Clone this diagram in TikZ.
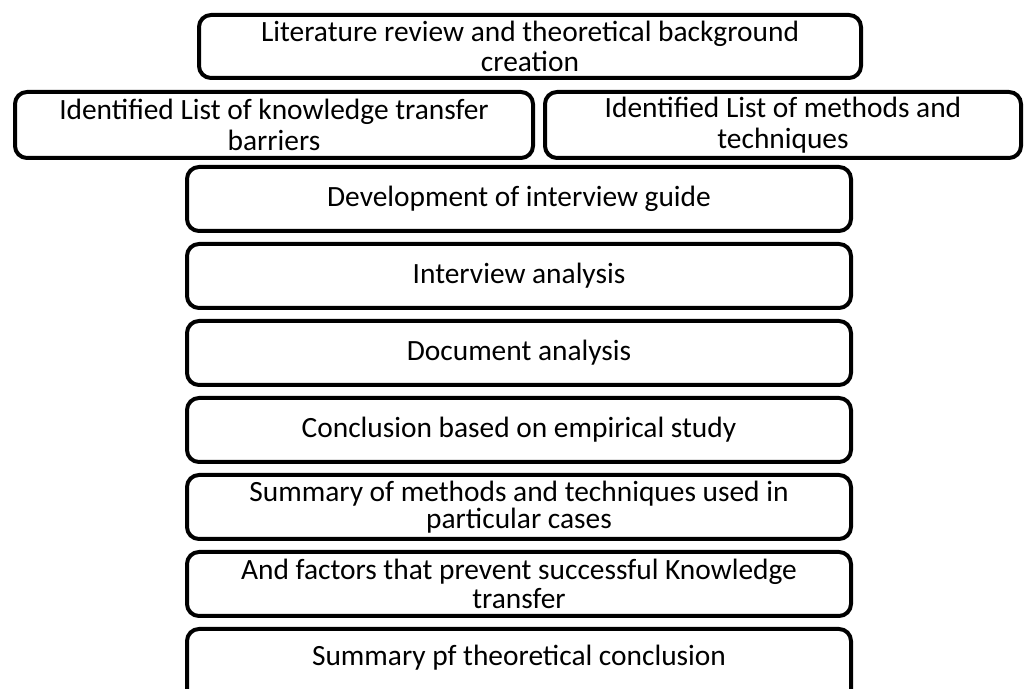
\documentclass[tikz,border=0pt]{standalone}
\usepackage{fontspec}
\setmainfont{Carlito}
\begin{document}
\begin{tikzpicture}[x=0.5pt,y=-0.5pt,
  stagebox/.style={draw=black, line width=2pt, rounded corners=6pt,
    align=center, inner sep=0pt, font=\fontsize{14.7pt}{15.8pt}\selectfont},
  stackbox/.style={stagebox, minimum width=332pt, minimum height=32pt},
  lead/.style={font=\fontsize{14.7pt}{#1}\selectfont}]
\useasboundingbox (0,0) rectangle (1024,689);

% literature stage
\node[stagebox, lead=15pt, minimum width=331pt, minimum height=31.5pt] (lit) at (530,46.5)
  {Literature review and theoretical background\\creation};

% two outcomes of the literature stage
\node[stagebox, minimum width=259pt, minimum height=33pt] (barriers) at (274,125)
  {Identified List of knowledge transfer\\barriers};
\node[stagebox, minimum width=238pt, minimum height=33pt] (methods) at (783,125)
  {Identified List of methods and\\techniques};

% empirical and concluding stages
\node[stackbox] (guide)    at (519,199) {Development of interview guide};
\node[stackbox] (interv)   at (519,276) {Interview analysis};
\node[stackbox] (docs)     at (519,353) {Document analysis};
\node[stackbox] (empir)    at (519,430) {Conclusion based on empirical study};
\node[stackbox, lead=13.5pt] (summeth) at (519,507) {Summary of methods and techniques used in\\particular cases};
\node[stackbox, lead=14.5pt] (factors) at (519,584) {And factors that prevent successful Knowledge\\transfer};
% the last box runs past the lower edge of the page
\node[stackbox, minimum height=45pt] (theory) at (519,674) {\raisebox{19pt}{Summary pf theoretical conclusion}};
\end{tikzpicture}
\end{document}
